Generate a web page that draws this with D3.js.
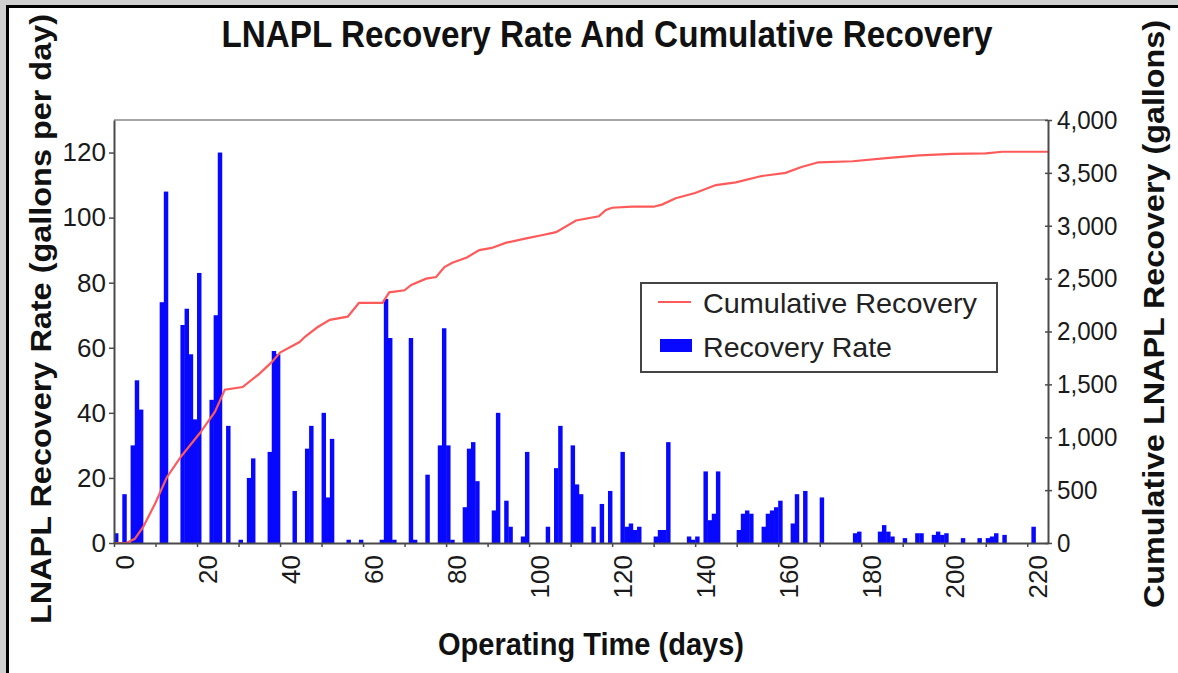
<!DOCTYPE html>
<html>
<head>
<meta charset="utf-8">
<script src="https://cdn.jsdelivr.net/npm/d3@7"></script>
<style>
  html, body { margin: 0; padding: 0; background: #cfcfcf; }
  svg { display: block; }
  text { font-family: "Liberation Sans", Arial, sans-serif; }
</style>
</head>
<body>
<svg id="chart" width="1178" height="673"></svg>
<script>
// ---------- data ----------
const rateDays = [0,2,4,5,6,11,12,16,17,18,19,20,23,24,25,27,30,32,33,37,38,39,43,46,47,50,51,52,56,59,64,65,66,67,71,72,75,78,79,80,81,84,85,86,87,91,92,94,95,98,99,104,106,107,110,111,112,115,117,119,122,123,124,125,126,130,131,132,133,138,139,140,142,143,144,145,150,151,152,153,156,157,158,159,160,163,164,166,170,178,179,184,185,186,187,190,193,194,197,198,199,200,204,208,210,211,212,214,221];
const rateValues = [3,15,30,50,41,74,108,67,72,58,38,83,44,70,120,36,1,20,26,28,59,58,16,29,36,40,14,32,1,1,1,75,63,1,63,1,21,30,66,30,1,11,29,31,19,10,40,13,5,2,28,5,23,36,30,18,15,5,12,16,28,5,6,4,5,2,4,4,31,2,1,2,22,7,9,22,4,9,10,9,5,9,10,11,13,6,15,16,14,3,3.5,3.5,5.5,3.5,2,1.5,3,3,2.5,3.5,2.5,3,1.5,1.5,1.5,2,3,2.5,5];

const cumDays = [0,3,5,7,10,12.7,16,20.7,24.3,26.7,31,35,38,40,44.7,46,49,52,56.3,59,64.7,66.3,70,71.6,75.2,77.6,79.6,81.5,85,88,91,94.5,99.3,103,106.5,111.3,116.8,118.5,120,124.8,130,132,135.3,140,145,149.8,156,161.8,165.6,169.7,178,186,194,202,210,214,225];
const cumValues = [0,0,40,150,380,620,810,1040,1240,1450,1475,1600,1710,1800,1900,1950,2040,2110,2140,2270,2270,2370,2390,2440,2500,2515,2610,2650,2700,2770,2790,2840,2880,2910,2940,3050,3090,3150,3170,3180,3180,3200,3260,3310,3385,3410,3470,3500,3555,3600,3610,3640,3665,3680,3685,3700,3700];

const xTicks = [0,10,20,30,40,50,60,70,80,90,100,110,120,130,140,150,160,170,180,190,200,210,220];
const leftTicks = [0,20,40,60,80,100,120];
const rightTicks = [0,500,1000,1500,2000,2500,3000,3500,4000];

const titleText = "LNAPL Recovery Rate And Cumulative Recovery";
const xTitle = "Operating Time (days)";
const yLeftTitle = "LNAPL Recovery Rate (gallons per day)";
const yRightTitle = "Cumulative LNAPL Recovery (gallons)";
const legendLabels = ["Cumulative  Recovery", "Recovery Rate"];

// ---------- layout ----------
const svg = d3.select("#chart");
const L = 114, R = 1048, T = 120, B = 543;

// frame
svg.append("rect").attr("x", 0).attr("y", 0).attr("width", 1178).attr("height", 673).attr("fill", "#cfcfcf");
svg.append("rect").attr("x", 6).attr("y", 5).attr("width", 1172).attr("height", 668).attr("fill", "#000");
svg.append("rect").attr("x", 9).attr("y", 8).attr("width", 1169).attr("height", 665).attr("fill", "#fff");

const x = d3.scaleLinear().domain([0, 225]).range([L, R]);
const yL = d3.scaleLinear().domain([0, 130]).range([B, T]);
const yR = d3.scaleLinear().domain([0, 4000]).range([B, T]);

// plot top border
svg.append("line").attr("x1", L).attr("x2", R).attr("y1", T).attr("y2", T)
  .attr("stroke", "#8a8a8a").attr("stroke-width", 1.5);

// bars
svg.append("g").selectAll("rect").data(rateDays.map((d, i) => ({d, v: rateValues[i]})))
  .join("rect")
  .attr("x", p => x(p.d))
  .attr("width", p => x(p.d + 1) - x(p.d) + 0.3)
  .attr("y", p => yL(p.v))
  .attr("height", p => yL(0) - yL(p.v))
  .attr("fill", "#0808ff");

// cumulative line
const line = d3.line().x(p => x(p[0])).y(p => yR(p[1]));
svg.append("path").datum(cumDays.map((d, i) => [d, cumValues[i]]))
  .attr("d", line).attr("fill", "none").attr("stroke", "#ff5a5a").attr("stroke-width", 2.2);

// axes
const axisColor = "#4a4a4a";
const gL = svg.append("g").attr("transform", `translate(${L},0)`)
  .call(d3.axisLeft(yL).tickValues(leftTicks).tickSizeInner(5).tickSizeOuter(0).tickPadding(3).tickFormat(d3.format("d")));
gL.selectAll("text").attr("font-size", 26).attr("fill", "#1a1a1a");

const gR = svg.append("g").attr("transform", `translate(${R},0)`)
  .call(d3.axisRight(yR).tickValues(rightTicks).tickSizeInner(4).tickSizeOuter(0).tickPadding(5).tickFormat(d3.format(",")));
gR.selectAll(".tick line").attr("x1", -3);
gR.selectAll("text").attr("font-size", 26).attr("fill", "#1a1a1a")
  .attr("textLength", function() { return this.getComputedTextLength() * 0.93; })
  .attr("lengthAdjust", "spacingAndGlyphs");

const gB = svg.append("g").attr("transform", `translate(0,${B})`)
  .call(d3.axisBottom(x).tickValues(xTicks).tickSizeInner(4).tickSizeOuter(0)
    .tickFormat(d => d % 20 === 0 ? String(d) : ""));
gB.selectAll("text")
  .attr("x", 0).attr("y", 0).attr("dy", "0.35em")
  .attr("transform", "translate(10,12) rotate(-90)")
  .attr("text-anchor", "end")
  .attr("font-size", 26).attr("fill", "#1a1a1a");

[gL, gR, gB].forEach(g => {
  g.select(".domain").attr("stroke", axisColor).attr("stroke-width", 2);
  g.selectAll(".tick line").attr("stroke", axisColor).attr("stroke-width", 1.5);
});

// titles
svg.append("text").attr("x", 607).attr("y", 47).attr("text-anchor", "middle")
  .attr("font-size", 36).attr("font-weight", "bold").attr("fill", "#111")
  .attr("textLength", 771).attr("lengthAdjust", "spacingAndGlyphs").text(titleText);

svg.append("text").attr("x", 591).attr("y", 655).attr("text-anchor", "middle")
  .attr("font-size", 31).attr("font-weight", "bold").attr("fill", "#111")
  .attr("textLength", 306).attr("lengthAdjust", "spacingAndGlyphs").text(xTitle);

svg.append("text").attr("transform", "translate(51,319) rotate(-90)").attr("text-anchor", "middle")
  .attr("font-size", 29).attr("font-weight", "bold").attr("fill", "#111")
  .attr("textLength", 610).attr("lengthAdjust", "spacingAndGlyphs").text(yLeftTitle);

svg.append("text").attr("transform", "translate(1164,314) rotate(-90)").attr("text-anchor", "middle")
  .attr("font-size", 29).attr("font-weight", "bold").attr("fill", "#111")
  .attr("textLength", 588).attr("lengthAdjust", "spacingAndGlyphs").text(yRightTitle);

// legend
const lg = svg.append("g");
lg.append("rect").attr("x", 641).attr("y", 283).attr("width", 356).attr("height", 89)
  .attr("fill", "#fff").attr("stroke", "#444").attr("stroke-width", 2);
lg.append("line").attr("x1", 658).attr("x2", 691).attr("y1", 302).attr("y2", 302)
  .attr("stroke", "#ff5a5a").attr("stroke-width", 2.2);
lg.append("rect").attr("x", 660).attr("y", 339).attr("width", 32).attr("height", 13).attr("fill", "#0808ff");
lg.append("text").attr("x", 703).attr("y", 313).attr("font-size", 28).attr("fill", "#222")
  .attr("textLength", 274).attr("lengthAdjust", "spacingAndGlyphs").text(legendLabels[0]);
lg.append("text").attr("x", 703).attr("y", 357).attr("font-size", 28).attr("fill", "#222")
  .attr("textLength", 189).attr("lengthAdjust", "spacingAndGlyphs").text(legendLabels[1]);
</script>
</body>
</html>
